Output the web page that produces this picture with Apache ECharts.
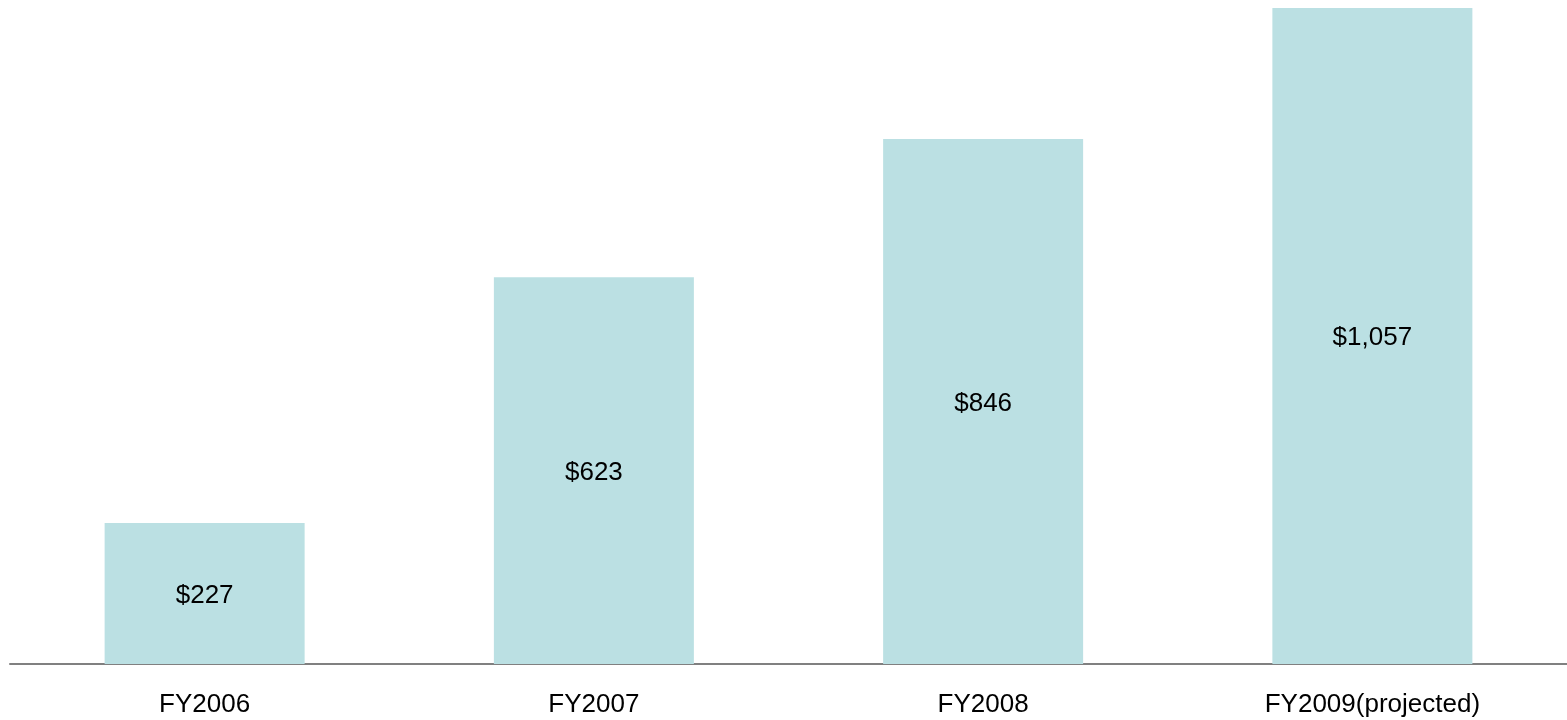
<!DOCTYPE html>
<html>
<head>
<meta charset="utf-8">
<script src="https://cdn.jsdelivr.net/npm/echarts@6/dist/echarts.min.js"></script>
<style>
  html, body { margin: 0; padding: 0; background: #ffffff; }
  #chart { width: 1567px; height: 720px; }
</style>
</head>
<body>
<div id="chart"></div>
<script>
// Fiscal years and revenue figures
const categories = ['FY2006', 'FY2007', 'FY2008', 'FY2009(projected)'];
const revenue = [227, 623, 846, 1057];

const chart = echarts.init(document.getElementById('chart'), null, { renderer: 'canvas' });

const fontFamily = '"Liberation Sans", Arial, Helvetica, sans-serif';

chart.setOption({
  animation: false,
  backgroundColor: '#ffffff',
  grid: { left: 10, right: 0, top: 8, bottom: 56, containLabel: false },
  xAxis: {
    type: 'category',
    data: categories,
    axisLine: { show: true, lineStyle: { color: '#808080', width: 2 } },
    axisTick: { show: false },
    axisLabel: {
      color: '#000000',
      fontFamily: fontFamily,
      fontSize: 26,
      margin: 28
    },
    splitLine: { show: false }
  },
  yAxis: {
    type: 'value',
    min: 0,
    max: 1057,
    show: false,
    splitLine: { show: false }
  },
  series: [{
    type: 'bar',
    data: revenue,
    barWidth: 200,
    itemStyle: { color: '#BBE0E3' },
    label: {
      show: true,
      position: 'inside',
      offset: [0, 2],
      color: '#000000',
      fontFamily: fontFamily,
      fontSize: 26,
      formatter: p => '$' + p.value.toLocaleString('en-US')
    }
  }]
});
</script>
</body>
</html>
